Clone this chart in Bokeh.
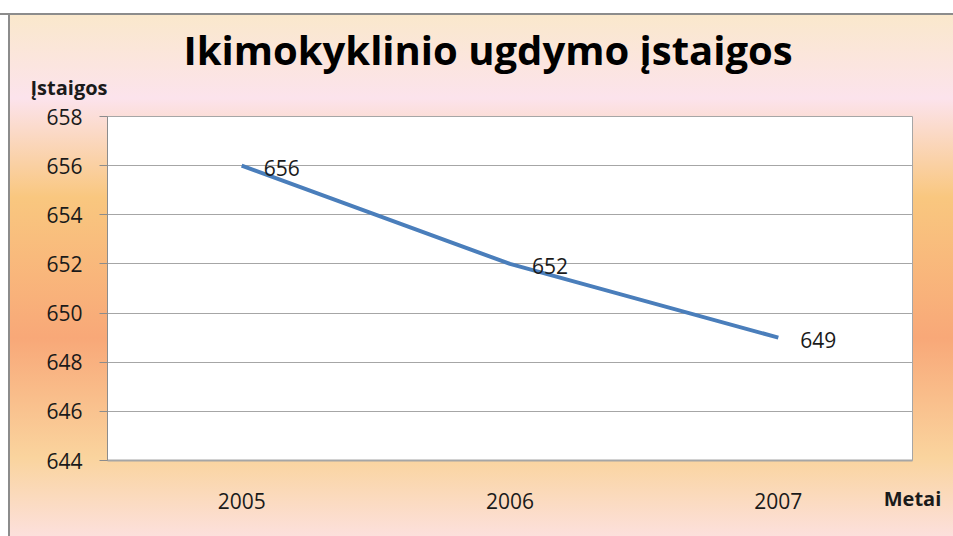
from bokeh.plotting import figure
from bokeh.models import Range1d, FixedTicker, Title, ColumnDataSource
from bokeh.core.properties import value
from bokeh.embed import file_html
from bokeh.resources import INLINE

years = ["2005", "2006", "2007"]
values = [656, 652, 649]
y_ticks = [644, 646, 648, 650, 652, 654, 656, 658]
title_text = "Ikimokyklinio ugdymo įstaigos"
y_title = "Įstaigos"
x_title = "Metai"

FONT = "Open Sans"

src = ColumnDataSource(dict(x=years, y=values, t=[str(v) for v in values]))

p = figure(x_range=years, y_range=Range1d(644, 658), width=953, height=536,
           output_backend="svg", toolbar_location=None,
           min_border_left=107, min_border_right=41, min_border_top=116, min_border_bottom=76)

p.styles = {
    "background": (
        "linear-gradient(#8c8c8c,#8c8c8c) 0 13px/100% 2px no-repeat, "
        "linear-gradient(#8c8c8c,#8c8c8c) 8px 13px/2px 100% no-repeat, "
        "linear-gradient(to bottom, #FAE8CC 0%, #FCE3EC 16%, #F9C77F 35%, #F8A878 62%, #FAD49E 85%, #FCE0DC 100%) 10px 15px/100% calc(100% - 15px) no-repeat, "
        "white"
    )
}
p.border_fill_color = None
p.background_fill_color = "white"
p.outline_line_color = "#a6a6a6"
p.outline_line_width = 1

p.xgrid.visible = False
p.ygrid.grid_line_color = "#a6a6a6"
p.ygrid.grid_line_width = 1

p.yaxis.ticker = FixedTicker(ticks=y_ticks)
p.yaxis.minor_tick_line_color = None
p.yaxis.major_tick_out = 8
p.yaxis.major_tick_in = 0
p.yaxis.major_tick_line_color = "#8c8c8c"
p.yaxis.axis_line_color = "#8c8c8c"
p.yaxis.major_label_standoff = 17
p.yaxis.major_label_text_font = FONT
p.yaxis.major_label_text_font_size = "21px"
p.yaxis.major_label_text_color = "#1a1a1a"

p.xaxis.major_tick_line_color = None
p.xaxis.minor_tick_line_color = None
p.xaxis.axis_line_color = "#a6a6a6"
p.xaxis.axis_line_width = 2
p.xaxis.major_label_standoff = 26
p.xaxis.major_label_text_font = FONT
p.xaxis.major_label_text_font_size = "21px"
p.xaxis.major_label_text_color = "#1a1a1a"
p.xaxis.axis_label = x_title
p.xaxis.axis_label_align = "end"
p.xaxis.axis_label_standoff = -27
p.xaxis.axis_label_text_font = FONT
p.xaxis.axis_label_text_font_size = "20px"
p.xaxis.axis_label_text_font_style = "bold"
p.xaxis.axis_label_text_color = "#1a1a1a"

p.line("x", "y", source=src, line_width=4, line_color="#4A7EBB")
p.text("x", "y", text="t", source=src, x_offset=22, y_offset=2,
       text_baseline="middle", text_align="left",
       text_font=value(FONT), text_font_size="21px", text_color="#1a1a1a")

t_ist = Title(text=y_title, align="left", offset=-77, standoff=31, text_font=FONT,
              text_font_size="20px", text_font_style="bold", text_color="#1a1a1a")
t_main = Title(text=title_text, align="left", offset=76, standoff=-40, text_font=FONT,
               text_font_size="40px", text_font_style="bold", text_color="black")
p.add_layout(t_ist, "above")
p.add_layout(t_main, "above")

open("out.html", "w").write(file_html(p, INLINE))
